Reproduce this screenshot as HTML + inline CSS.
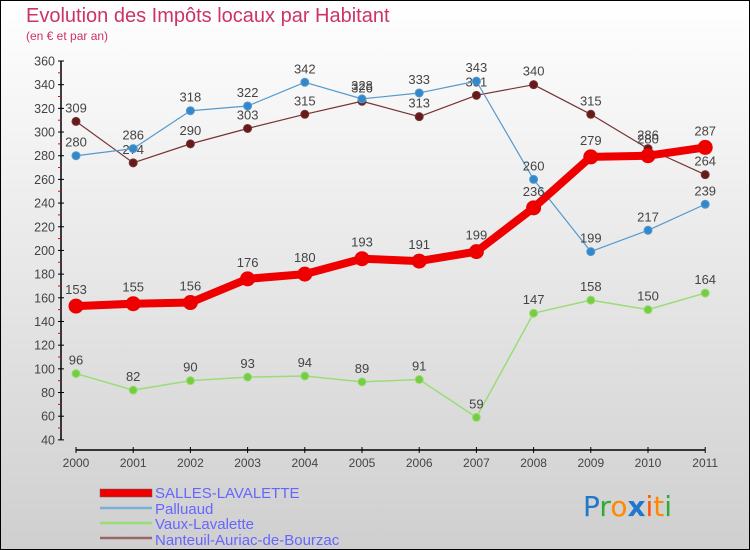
<!DOCTYPE html>
<html><head><meta charset="utf-8"><style>
body{margin:0;width:750px;height:550px;overflow:hidden}
svg{display:block;font-family:"Liberation Sans",sans-serif}
</style></head><body>
<svg id="c" width="750" height="550">
<defs><linearGradient id="bg" x1="0" y1="0" x2="0" y2="1"><stop offset="0" stop-color="#ffffff"/><stop offset="1" stop-color="#cfcfcf"/></linearGradient></defs>
<rect x="0.5" y="0.5" width="749" height="549" fill="url(#bg)" stroke="#000"/>
<text x="26" y="22" font-size="20" fill="#cc3366">Evolution des Impôts locaux par Habitant</text>
<text x="26" y="40" font-size="12" fill="#cc3366">(en € et par an)</text>
<g id="axes"></g><g id="series"></g>
<g font-size="15" fill="#6666ff">
<rect x="100" y="489" width="52" height="8" fill="#ee0000" stroke="#666" stroke-width="0.5"/>
<text x="155" y="498">SALLES-LAVALETTE</text>
<line x1="100" y1="508" x2="152" y2="508" stroke="#7ab0d8" stroke-width="2.5"/>
<text x="155" y="514">Palluaud</text>
<line x1="100" y1="523" x2="152" y2="523" stroke="#99dd77" stroke-width="2.5"/>
<text x="155" y="529">Vaux-Lavalette</text>
<line x1="100" y1="538" x2="152" y2="538" stroke="#996666" stroke-width="2.5"/>
<text x="155" y="545">Nanteuil-Auriac-de-Bourzac</text>
</g>
<g font-size="28" font-family="'DejaVu Sans',sans-serif">
<text x="583" y="516"><tspan fill="#2277cc">P</tspan><tspan fill="#33aa33">r</tspan><tspan fill="#ff8800">o</tspan><tspan fill="#2277cc" font-weight="bold">x</tspan><tspan fill="#ff5500">i</tspan><tspan fill="#ff8800">t</tspan><tspan fill="#33aa33">i</tspan></text>
</g>
</svg>
<script>
const years=["2000","2001","2002","2003","2004","2005","2006","2007","2008","2009","2010","2011"];
const salles=[153,155,156,176,180,193,191,199,236,279,280,287];
const palluaud=[280,286,318,322,342,328,333,343,260,199,217,239];
const vaux=[96,82,90,93,94,89,91,59,147,158,150,164];
const nanteuil=[309,274,290,303,315,326,313,331,340,315,286,264];
const yTicks=[40,60,80,100,120,140,160,180,200,220,240,260,280,300,320,340,360];
const NS="http://www.w3.org/2000/svg";
function X(i){return 76+i*57.2;}
function Y(v){return 61+(360-v)*1.184;}
function mk(t,a,p){const e=document.createElementNS(NS,t);for(const k in a)e.setAttribute(k,a[k]);p.appendChild(e);return e;}
const ax=document.getElementById('axes');
mk('line',{x1:61,y1:61,x2:61,y2:Y(40),stroke:'#000','stroke-width':1.5},ax);
mk('line',{x1:76,y1:450,x2:X(11),y2:450,stroke:'#000','stroke-width':1.5},ax);
yTicks.forEach((v,i)=>{
 mk('line',{x1:58,y1:Y(v),x2:64,y2:Y(v),stroke:'#000'},ax);
 if(i<yTicks.length-1)mk('line',{x1:58,y1:Y(v+10),x2:61,y2:Y(v+10),stroke:'#e00'},ax);
 const t=mk('text',{x:55,y:Y(v)+4.5,'font-size':12.5,'text-anchor':'end',fill:'#444'},ax);
 
 
 t.textContent=v;
});
years.forEach((y,i)=>{
 mk('line',{x1:X(i),y1:447,x2:X(i),y2:453,stroke:'#000'},ax);
 const t=mk('text',{x:X(i),y:467,'font-size':12,'text-anchor':'middle',fill:'#444'},ax);
 
 
 t.textContent=y;
});
const sg=document.getElementById('series');
function draw(name,data,color,lw,r,fill){
 const g=mk('g',{},sg);
 
 
 const pl=mk('polyline',{points:data.map((v,i)=>X(i)+','+Y(v)).join(' '),fill:'none',stroke:color,'stroke-width':lw,'stroke-linejoin':'round'},g);
 
 data.forEach((v,i)=>{
  const c=mk('circle',{cx:X(i),cy:Y(v),r:r,fill:fill,stroke:color,'stroke-width':1},g);
  
  
  const t=mk('text',{x:X(i),y:Y(v)-r-5,'font-size':13,'text-anchor':'middle',fill:'#444'},g);
  
  
  t.textContent=v;
 });
}
draw('nanteuil',nanteuil,'#773333',1.2,4,'#661a1a');
draw('palluaud',palluaud,'#5599cc',1.2,4,'#3388cc');
draw('vaux',vaux,'#99dd77',1.5,4,'#77cc44');
draw('salles',salles,'#ee0000',8,7,'#ee0000');
</script>
</body></html>
